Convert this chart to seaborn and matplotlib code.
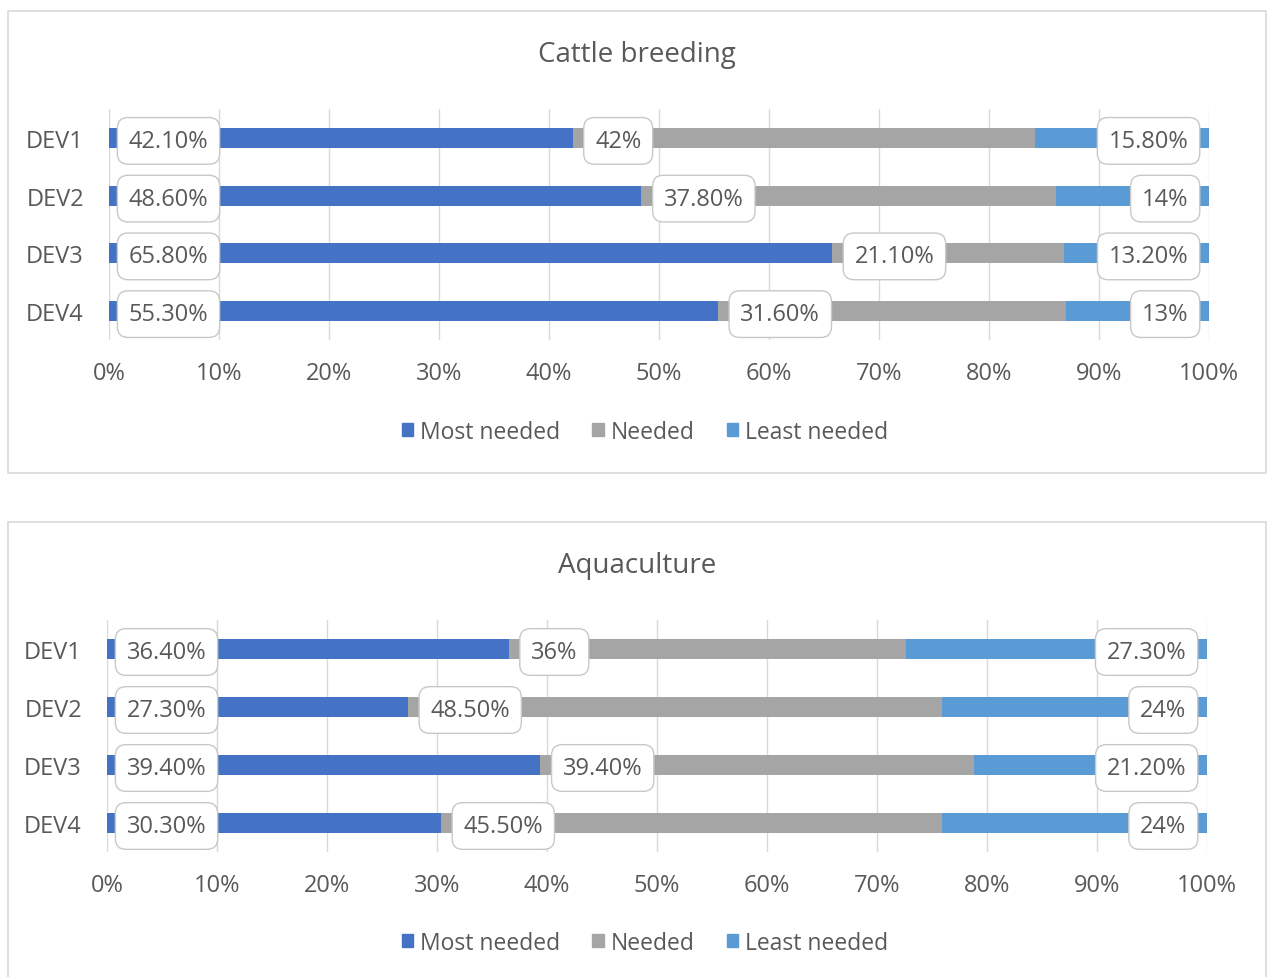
import matplotlib
matplotlib.use("Agg")
import matplotlib.pyplot as plt
from matplotlib.patches import Rectangle, Patch
import seaborn as sns
import pandas as pd

sns.set_theme(style="white")
plt.rcParams["font.family"] = ["Open Sans", "DejaVu Sans"]

devices = ["DEV1", "DEV2", "DEV3", "DEV4"]
series = ["Most needed", "Needed", "Least needed"]
colors = ["#4472C4", "#A5A5A5", "#5B9BD5"]
tick_labels = ["0%", "10%", "20%", "30%", "40%", "50%", "60%", "70%", "80%", "90%", "100%"]

cattle_most = [42.1, 48.6, 65.8, 55.3]
cattle_needed = [42.0, 37.8, 21.1, 31.6]
cattle_least = [15.8, 14.0, 13.2, 13.0]

aqua_most = [36.4, 27.3, 39.4, 30.3]
aqua_needed = [36.0, 48.5, 39.4, 45.5]
aqua_least = [27.3, 24.0, 21.2, 24.0]

TEXT = "#595959"
GRID = "#D9D9D9"
W, H = 1269, 978


def fmt(v):
    return f"{v:.0f}%" if abs(v - round(v)) < 1e-9 else f"{v:.2f}%"


def draw_panel(fig, ax, title, title_y, legend_y, most, needed, least):
    df = pd.DataFrame({"device": devices, "most": most,
                       "needed": needed, "least": least})
    # 100% stacked: each segment is its share of the row total
    total = df["most"] + df["needed"] + df["least"]
    df["c1"] = df["most"] / total * 100
    df["c2"] = (df["most"] + df["needed"]) / total * 100
    df["c3"] = 100.0
    for col, c in zip(["c3", "c2", "c1"], colors[::-1]):
        sns.barplot(data=df, x=col, y="device", order=devices, color=c,
                    orient="h", width=0.35, ax=ax, saturation=1,
                    edgecolor="none", zorder=2)
    box = dict(boxstyle="round,pad=0.48,rounding_size=0.45", fc="white",
               ec="#C8C8C8", lw=1.0)
    kw = dict(textcoords="offset points", va="center_baseline", fontsize=17,
              color=TEXT, bbox=box, zorder=5, annotation_clip=False)
    for i, row in df.iterrows():
        ax.annotate(fmt(row["most"]), xy=(0, i), xytext=(14.2, 0),
                    ha="left", **kw)
        ax.annotate(fmt(row["needed"]), xy=(row["c1"], i), xytext=(16.2, 0),
                    ha="left", **kw)
        ax.annotate(fmt(row["least"]), xy=(row["c3"], i), xytext=(-14.8, 0),
                    ha="right", **kw)
    ax.set_xlim(0, 100)
    ax.set_ylim(3.5, -0.5)
    ax.set_xticks(range(0, 101, 10))
    ax.set_xticklabels(tick_labels)
    ax.set_xlabel("")
    ax.set_ylabel("")
    ax.grid(axis="x", color=GRID, lw=1.0, zorder=0)
    ax.set_axisbelow(True)
    for s in ax.spines.values():
        s.set_visible(False)
    ax.tick_params(axis="both", length=0, labelsize=17, labelcolor=TEXT)
    ax.tick_params(axis="x", pad=15)
    ax.tick_params(axis="y", pad=18)
    fig.text(637 / W, 1 - title_y / H, title, fontsize=20, color=TEXT,
             ha="center", va="center")
    handles = [Patch(color=c, label=s) for c, s in zip(colors, series)]
    fig.legend(handles=handles, loc="center",
               bbox_to_anchor=(645 / W, 1 - legend_y / H),
               ncol=3, frameon=False, fontsize=16.5, handlelength=0.5,
               handleheight=0.5, handletextpad=0.3, columnspacing=1.4,
               labelcolor=TEXT)


fig = plt.figure(figsize=(12.69, 9.78), dpi=100)

# chart-area frames
fig.patches.append(Rectangle((8 / W, 1 - 474 / H), 1258 / W, 462 / H,
                             transform=fig.transFigure, fill=False,
                             ec="#D9D9D9", lw=1.2))
fig.patches.append(Rectangle((8 / W, -0.01), 1258 / W, 1 - 523 / H + 0.01,
                             transform=fig.transFigure, fill=False,
                             ec="#D9D9D9", lw=1.2))

ax1 = fig.add_axes([109 / W, 1 - 341 / H, 1100 / W, 231 / H])
ax2 = fig.add_axes([107 / W, 1 - 853 / H, 1100 / W, 232 / H])

draw_panel(fig, ax1, "Cattle breeding", 55, 433,
           cattle_most, cattle_needed, cattle_least)
draw_panel(fig, ax2, "Aquaculture", 566, 944,
           aqua_most, aqua_needed, aqua_least)

fig.savefig("out.png", dpi=100)
